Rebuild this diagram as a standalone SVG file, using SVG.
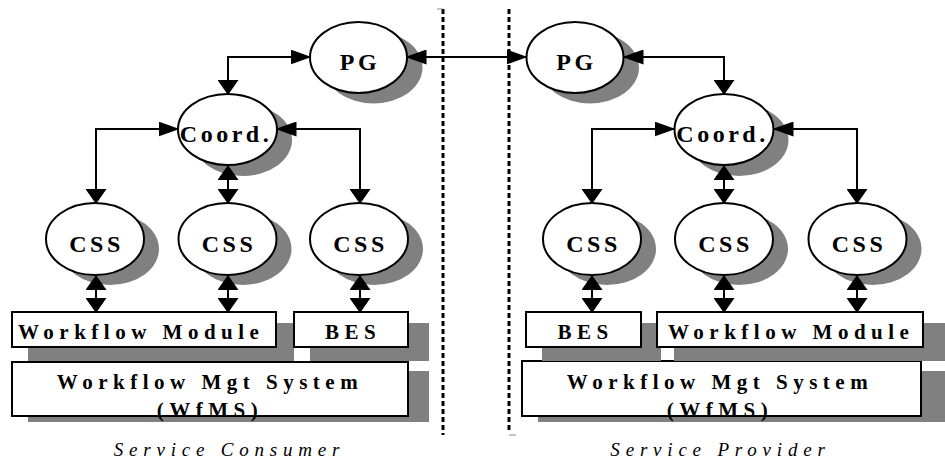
<svg xmlns="http://www.w3.org/2000/svg" width="945" height="470" viewBox="0 0 945 470">
<style>
.sh{fill:#808080;stroke:none}
.nd{fill:#fff;stroke:#000;stroke-width:2}
.lb{font-family:"Liberation Serif","Times New Roman",serif;font-weight:bold;font-size:24px;letter-spacing:3.5px;fill:#000;text-anchor:middle}
.bx{font-family:"Liberation Serif","Times New Roman",serif;font-weight:bold;font-size:21px;letter-spacing:5.5px;fill:#000}
.cap{font-family:"Liberation Serif","Times New Roman",serif;font-style:italic;font-size:19px;letter-spacing:5.8px;fill:#000;text-anchor:middle}
.cn{fill:none;stroke:#000;stroke-width:2}
.dl{stroke:#000;stroke-width:3;stroke-dasharray:5 3;fill:none}
</style>
<defs>
<marker id="aH" markerUnits="userSpaceOnUse" markerWidth="21" markerHeight="15" refX="19.5" refY="7.5" orient="auto-start-reverse"><path d="M0,0 L21,7.5 L0,15 z" fill="#000"/></marker>
<marker id="aV" markerUnits="userSpaceOnUse" markerWidth="15" markerHeight="21" refX="14" refY="10.5" orient="auto-start-reverse"><path d="M0,0 L15,10.5 L0,21 z" fill="#000"/></marker>
</defs>
<rect width="945" height="470" fill="#fff"/>

<g id="divider">
<line class="dl" x1="443" y1="9" x2="443" y2="435"/>
<line class="dl" x1="509" y1="9" x2="509" y2="433"/>
<line x1="437" y1="9" x2="443" y2="9" stroke="#888" stroke-width="1"/>
<line x1="509" y1="435" x2="516" y2="435" stroke="#888" stroke-width="1"/>
</g>

<!-- Left side (Service Consumer) -->
<g id="pg-left"><ellipse class="sh" cx="373.5" cy="67.5" rx="49" ry="36"/><ellipse class="nd" cx="358.5" cy="57.5" rx="48.5" ry="35.5"/><text class="lb" x="360" y="70">PG</text></g>
<g id="coord-left"><ellipse class="sh" cx="242.5" cy="140" rx="49.5" ry="36"/><ellipse class="nd" cx="227.5" cy="129.5" rx="49.5" ry="35.5"/><text class="lb" x="226" y="142">Coord.</text></g>
<g id="css-left-1"><ellipse class="sh" cx="110" cy="249" rx="49" ry="36"/><ellipse class="nd" cx="95" cy="239" rx="49" ry="36"/><text class="lb" x="96.5" y="252">CSS</text></g>
<g id="css-left-2"><ellipse class="sh" cx="242.5" cy="249" rx="49" ry="36"/><ellipse class="nd" cx="227.5" cy="239" rx="49" ry="36"/><text class="lb" x="229" y="252">CSS</text></g>
<g id="css-left-3"><ellipse class="sh" cx="374" cy="249" rx="49" ry="36"/><ellipse class="nd" cx="359" cy="239" rx="49" ry="36"/><text class="lb" x="360.5" y="252">CSS</text></g>
<g id="wfms-left"><rect class="sh" x="28" y="371" width="401" height="51"/><rect class="nd" x="12" y="362" width="396" height="54"/><text class="bx" x="210" y="389" text-anchor="middle">Workflow Mgt System</text><text class="bx" x="210" y="417" text-anchor="middle">(WfMS)</text></g>
<g id="wm-left"><rect class="sh" x="28" y="323" width="266" height="38"/><rect class="nd" x="12" y="312" width="264" height="35"/><text class="bx" x="18" y="339">Workflow Module</text></g>
<g id="bes-left"><rect class="sh" x="310" y="323" width="119" height="38"/><rect class="nd" x="294" y="312" width="114" height="35"/><text class="bx" x="353" y="339" text-anchor="middle">BES</text></g>

<!-- Right side (Service Provider) -->
<g id="pg-right"><ellipse class="sh" cx="590" cy="67.5" rx="49" ry="36"/><ellipse class="nd" cx="575" cy="57.5" rx="48.5" ry="35.5"/><text class="lb" x="576.5" y="70">PG</text></g>
<g id="coord-right"><ellipse class="sh" cx="739" cy="140" rx="49.5" ry="36"/><ellipse class="nd" cx="724" cy="129.5" rx="49.5" ry="35.5"/><text class="lb" x="722.5" y="142">Coord.</text></g>
<g id="css-right-1"><ellipse class="sh" cx="607" cy="249" rx="49" ry="36"/><ellipse class="nd" cx="592" cy="239" rx="49" ry="36"/><text class="lb" x="593.5" y="252">CSS</text></g>
<g id="css-right-2"><ellipse class="sh" cx="739" cy="249" rx="49" ry="36"/><ellipse class="nd" cx="724" cy="239" rx="49" ry="36"/><text class="lb" x="725.5" y="252">CSS</text></g>
<g id="css-right-3"><ellipse class="sh" cx="872.5" cy="249" rx="49" ry="36"/><ellipse class="nd" cx="857.5" cy="239" rx="49" ry="36"/><text class="lb" x="859" y="252">CSS</text></g>
<g id="wfms-right"><rect class="sh" x="538" y="371" width="407" height="51"/><rect class="nd" x="522" y="361" width="399" height="55"/><text class="bx" x="720" y="389" text-anchor="middle">Workflow Mgt System</text><text class="bx" x="720" y="417" text-anchor="middle">(WfMS)</text></g>
<g id="bes-right"><rect class="sh" x="542" y="323" width="119" height="38"/><rect class="nd" x="526" y="312" width="115" height="35"/><text class="bx" x="585.5" y="339" text-anchor="middle">BES</text></g>
<g id="wm-right"><rect class="sh" x="674" y="323" width="271" height="38"/><rect class="nd" x="657" y="312" width="266" height="35"/><text class="bx" x="668" y="339">Workflow Module</text></g>

<g id="connectors">
<path class="cn" d="M228 94 L228 57 L310 57" marker-start="url(#aV)" marker-end="url(#aH)"/>
<path class="cn" d="M178 129 L96 129 L96 203" marker-start="url(#aH)" marker-end="url(#aV)"/>
<path class="cn" d="M277 129 L360 129 L360 203" marker-start="url(#aH)" marker-end="url(#aV)"/>
<path class="cn" d="M228 166 L228 203" marker-start="url(#aV)" marker-end="url(#aV)"/>
<path class="cn" d="M96 276 L96 312" marker-start="url(#aV)" marker-end="url(#aV)"/>
<path class="cn" d="M228 276 L228 312" marker-start="url(#aV)" marker-end="url(#aV)"/>
<path class="cn" d="M360 276 L360 312" marker-start="url(#aV)" marker-end="url(#aV)"/>
<path class="cn" d="M407 57 L526 57" marker-start="url(#aH)" marker-end="url(#aH)"/>
<path class="cn" d="M624 57 L724 57 L724 94" marker-start="url(#aH)" marker-end="url(#aV)"/>
<path class="cn" d="M674 129 L592 129 L592 203" marker-start="url(#aH)" marker-end="url(#aV)"/>
<path class="cn" d="M774 129 L857 129 L857 203" marker-start="url(#aH)" marker-end="url(#aV)"/>
<path class="cn" d="M724 166 L724 203" marker-start="url(#aV)" marker-end="url(#aV)"/>
<path class="cn" d="M592 276 L592 312" marker-start="url(#aV)" marker-end="url(#aV)"/>
<path class="cn" d="M724 276 L724 312" marker-start="url(#aV)" marker-end="url(#aV)"/>
<path class="cn" d="M857 276 L857 312" marker-start="url(#aV)" marker-end="url(#aV)"/>
</g>

<text class="cap" x="229.5" y="456">Service Consumer</text>
<text class="cap" x="720.5" y="456">Service Provider</text>
</svg>
